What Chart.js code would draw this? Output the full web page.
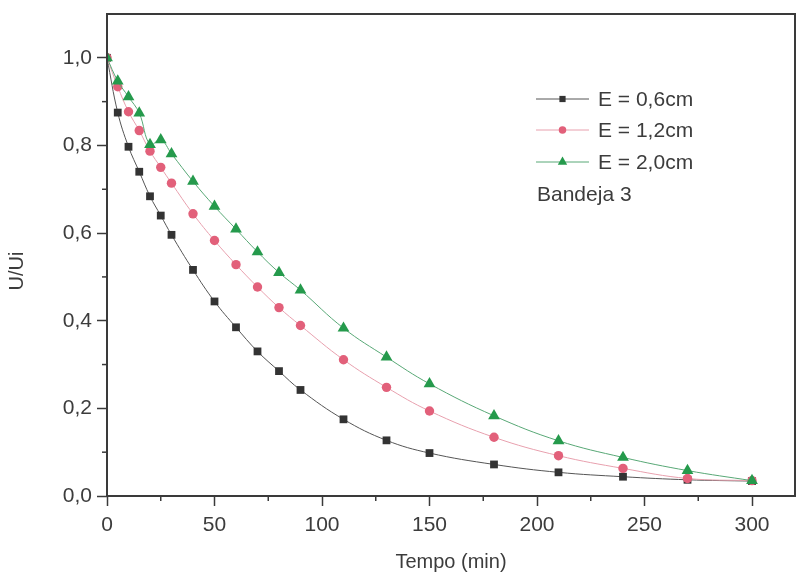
<!DOCTYPE html>
<html>
<head>
<meta charset="utf-8">
<script src="https://cdn.jsdelivr.net/npm/chart.js@4/dist/chart.umd.min.js"></script>
<style>
  html, body { margin: 0; padding: 0; background: #fff; }
  #dataChart { display: block; }
</style>
</head>
<body>
<canvas id="dataChart" width="796" height="574"></canvas>
<script>
// tempo (min) and U/Ui for each thickness
var tempo = [0, 5, 10, 15, 20, 25, 30, 40, 50, 60, 70, 80, 90, 110, 130, 150, 180, 210, 240, 270, 300];
var e06 = [1.0, 0.875, 0.797, 0.740, 0.684, 0.640, 0.596, 0.516, 0.444, 0.385, 0.330, 0.285, 0.242, 0.175, 0.127, 0.098, 0.072, 0.054, 0.044, 0.037, 0.034];
var e12 = [1.0, 0.934, 0.877, 0.834, 0.787, 0.750, 0.714, 0.644, 0.583, 0.528, 0.477, 0.430, 0.389, 0.311, 0.248, 0.194, 0.134, 0.092, 0.063, 0.040, 0.035];
var e20 = [1.0, 0.947, 0.911, 0.874, 0.802, 0.813, 0.781, 0.718, 0.661, 0.609, 0.557, 0.510, 0.470, 0.383, 0.317, 0.256, 0.183, 0.126, 0.088, 0.058, 0.035];
var seriesNames = ["E = 0,6cm", "E = 1,2cm", "E = 2,0cm"];
var legendNote = "Bandeja 3";

var xTicks = [0, 50, 100, 150, 200, 250, 300];
var xMinor = [25, 75, 125, 175, 225, 275];
var yTicks = [0.0, 0.2, 0.4, 0.6, 0.8, 1.0];
var yMinor = [0.1, 0.3, 0.5, 0.7, 0.9];
var xTitle = "Tempo (min)";
var yTitle = "U/Ui";

var FONT = "'Liberation Sans', Arial, sans-serif";
var TXT = "#3c3c3c";
var AXIS = "#3a3a3a";

function pts(ys) {
    var out = [];
    for (var i = 0; i < tempo.length; i++) out.push({x: tempo[i], y: ys[i]});
    return out;
}

// box, minor ticks, y title and the inside legend
var extras = {
    id: 'extras',
    afterDraw: function (chart) {
        var c = chart.ctx, a = chart.chartArea;
        var sx = chart.scales.x, sy = chart.scales.y;
        c.save();
        c.strokeStyle = AXIS;
        c.lineWidth = 2;
        c.strokeRect(a.left, a.top, a.right - a.left, a.bottom - a.top);

        c.lineWidth = 1.5;
        xMinor.forEach(function (v) {
            var px = sx.getPixelForValue(v);
            c.beginPath(); c.moveTo(px, a.bottom); c.lineTo(px, a.bottom + 5); c.stroke();
        });
        yMinor.forEach(function (v) {
            var py = sy.getPixelForValue(v);
            c.beginPath(); c.moveTo(a.left - 5, py); c.lineTo(a.left, py); c.stroke();
        });

        // y title
        c.fillStyle = TXT;
        c.font = "20px " + FONT;
        c.textAlign = "center";
        c.textBaseline = "middle";
        c.translate(17, 271);
        c.rotate(-Math.PI / 2);
        c.fillText(yTitle, 0, 0);
        c.restore();

        // legend
        c.save();
        var lx0 = 536, lx1 = 589, tx = 598;
        var rows = [99, 130, 162];
        chart.data.datasets.forEach(function (ds, i) {
            var y = rows[i];
            c.strokeStyle = ds.borderColor;
            c.lineWidth = 1;
            c.beginPath(); c.moveTo(lx0, y); c.lineTo(lx1, y); c.stroke();
            c.fillStyle = ds.pointBackgroundColor;
            c.strokeStyle = ds.pointBackgroundColor;
            Chart.helpers.drawPoint(c, {pointStyle: ds.pointStyle, radius: ds.pointRadius * 0.8, rotation: 0, borderWidth: 0}, (lx0 + lx1) / 2, y);
            c.fillStyle = TXT;
            c.font = "21px " + FONT;
            c.textAlign = "left";
            c.textBaseline = "middle";
            c.fillText(seriesNames[i], tx, y + 1);
        });
        c.fillText(legendNote, 537, 195);
        c.restore();
    }
};

var ctx = document.getElementById("dataChart");
var myChart = new Chart(ctx, {
    type: 'line',
    data: {
        datasets: [{
            label: seriesNames[0],
            data: pts(e06),
            borderColor: "#555555",
            borderWidth: 1,
            pointStyle: 'rect',
            pointRadius: 5.5,
            pointBackgroundColor: "#333333",
            pointBorderWidth: 0,
            tension: 0.4,
            order: 2
        }, {
            label: seriesNames[1],
            data: pts(e12),
            borderColor: "#e8a0ae",
            borderWidth: 1,
            pointStyle: 'circle',
            pointRadius: 4.7,
            pointBackgroundColor: "#e2607a",
            pointBorderWidth: 0,
            tension: 0.4,
            order: 1
        }, {
            label: seriesNames[2],
            data: pts(e20),
            borderColor: "#58a876",
            borderWidth: 1,
            pointStyle: 'triangle',
            pointRadius: 6.8,
            pointBackgroundColor: "#259a4c",
            pointBorderWidth: 0,
            tension: 0.4,
            order: 0
        }]
    },
    options: {
        responsive: false,
        devicePixelRatio: 1,
        animation: false,
        layout: { autoPadding: false, padding: { top: 14, right: 1, left: 0, bottom: 0 } },
        plugins: { legend: { display: false }, tooltip: { enabled: false } },
        scales: {
            x: {
                type: 'linear',
                min: 0,
                max: 320,
                afterBuildTicks: function (s) { s.ticks = xTicks.map(function (v) { return {value: v}; }); },
                afterFit: function (s) { s.height = 78; s.paddingLeft = 0; s.paddingRight = 0; },
                grid: { drawOnChartArea: false, tickLength: 10, tickColor: AXIS, tickWidth: 1.5 },
                border: { display: false },
                ticks: { color: TXT, font: { family: FONT, size: 21 }, padding: 7, maxRotation: 0 },
                title: { display: true, text: xTitle, color: TXT, font: { family: FONT, size: 20 }, padding: 0 }
            },
            y: {
                min: 0,
                max: 1.1,
                afterBuildTicks: function (s) { s.ticks = yTicks.map(function (v) { return {value: v}; }); },
                afterFit: function (s) { s.width = 107; s.paddingTop = 0; s.paddingBottom = 0; },
                grid: { drawOnChartArea: false, tickLength: 10, tickColor: AXIS, tickWidth: 1.5 },
                border: { display: false },
                ticks: {
                    color: TXT, font: { family: FONT, size: 21 }, padding: 5,
                    callback: function (v) { return v.toFixed(1).replace('.', ','); }
                }
            }
        }
    },
    plugins: [extras]
});
</script>
</body>
</html>
